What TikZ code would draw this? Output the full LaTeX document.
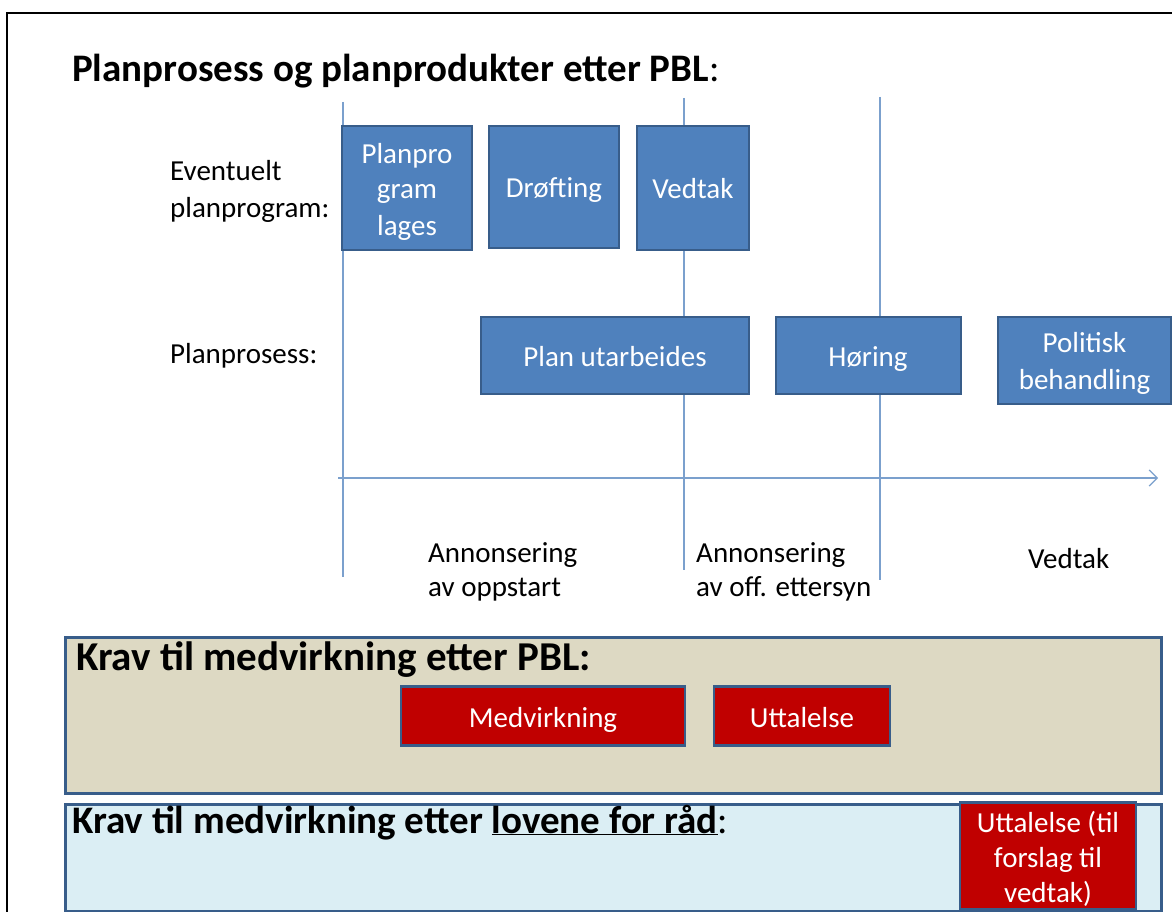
\documentclass[tikz,border=0pt]{standalone}
\usepackage{fontspec}
\setmainfont{Carlito}
\usetikzlibrary{arrows.meta}
\definecolor{boxblue}{HTML}{4F81BD}
\definecolor{boxedge}{HTML}{385D8A}
\definecolor{linblue}{HTML}{7BA0CD}
\definecolor{boxred}{HTML}{C00000}
\definecolor{tan}{HTML}{DDD9C3}
\definecolor{pale}{HTML}{DBEEF4}
\tikzset{
  body/.style={font=\fontsize{29}{36}\selectfont},
  lone/.style={text height=26pt, text depth=4pt},
  bluebox/.style={draw=boxedge, line width=2pt, fill=boxblue, text=white, align=center, inner sep=0pt, body},
  redbox/.style={draw=boxedge, line width=2.5pt, fill=boxred, text=white, align=center, inner sep=0pt, body},
  lbl/.style={align=left, inner sep=0pt, body, anchor=north west},
  panel/.style={draw=boxedge, line width=3pt, inner sep=0pt},
  vline/.style={draw=linblue, line width=1.2pt},
  ttl/.style={inner sep=0pt, anchor=base west, font=\bfseries\fontsize{39}{46}\selectfont}
}
\begin{document}
\begin{tikzpicture}[x=1pt,y=-1pt]
\useasboundingbox (0,0) rectangle (1172,912);
\fill[white] (0,0) rectangle (1172,912);
% frame
\draw[line width=2pt] (1172,13) -- (7,13) -- (7,912);
% title
\node[ttl] (title) at (72,82) {Planprosess og planprodukter etter PBL\mdseries:};
% vertical time lines
\coordinate (v1t) at (343,102); \coordinate (v1b) at (343,577);
\coordinate (v2t) at (684,98);  \coordinate (v2b) at (684,570);
\coordinate (v3t) at (880,97);  \coordinate (v3b) at (880,580);
\draw[vline] (v1t) -- (v1b);
\draw[vline] (v2t) -- (v2b);
\draw[vline] (v3t) -- (v3b);
\coordinate (axs) at (338,478); \coordinate (axe) at (1158,478);
\draw[vline, -{Straight Barb[length=8pt,width=16pt]}] (axs) -- (axe);
% row labels
\node[lbl, text height=63pt] (ev) at (170,154) {Eventuelt\\[1pt]planprogram:};
\node[lbl, text height=26pt] (pp) at (170,337) {Planprosess:};
% boxes top row
\node[bluebox, text height=98pt, text depth=4pt, minimum width=130, minimum height=124] (prog) at (407,188) {Planpro\\gram\\lages};
\node[bluebox, lone, minimum width=130, minimum height=122] (drof) at (554,187) {Drøfting};
\node[bluebox, lone, minimum width=112, minimum height=124] (vedt) at (693,188) {Vedtak};
% process row
\node[bluebox, lone, minimum width=268, minimum height=77] (utarb) at (615,355) {Plan utarbeides};
\node[bluebox, lone, minimum width=185, minimum height=77] (hor) at (868,355) {Høring};
\node[bluebox, text height=63pt, text depth=4pt, minimum width=173, minimum height=87, anchor=west] (pol) at (997,360) {Politisk\\[1pt]behandling};
% bottom labels
\node[lbl, text height=60pt] (ann1) at (428,536) {Annonsering\\[-2pt]av oppstart};
\node[lbl, text height=60pt] (ann2) at (696,536) {Annonsering\\[-2pt]av off. ettersyn};
\node[lbl, text height=26pt] (ved) at (1028,542) {Vedtak};
% panels
\node[panel, fill=tan, minimum width=1096, minimum height=156, anchor=north west] (pbl) at (64,636) {};
\node[ttl, font=\bfseries\fontsize{41}{46}\selectfont] (pblt) at (76,670) {Krav til medvirkning etter PBL:};
\node[redbox, lone, minimum width=284, minimum height=59] (medv) at (543,716) {Medvirkning};
\node[redbox, lone, minimum width=176, minimum height=59] (utt) at (802,716) {Uttalelse};
\node[panel, fill=pale, minimum width=1096, minimum height=107, anchor=north west] (rad) at (64,803) {};
\node[ttl] (radt) at (72,833) {Krav til medvirkning etter \underline{lovene for råd}\mdseries:};
\node[redbox, text height=96pt, text depth=4pt, minimum width=176, minimum height=107] (utt2) at (1048,856) {Uttalelse (til\\[-1pt]forslag til\\[-1pt]vedtak)};
\end{tikzpicture}
\end{document}
